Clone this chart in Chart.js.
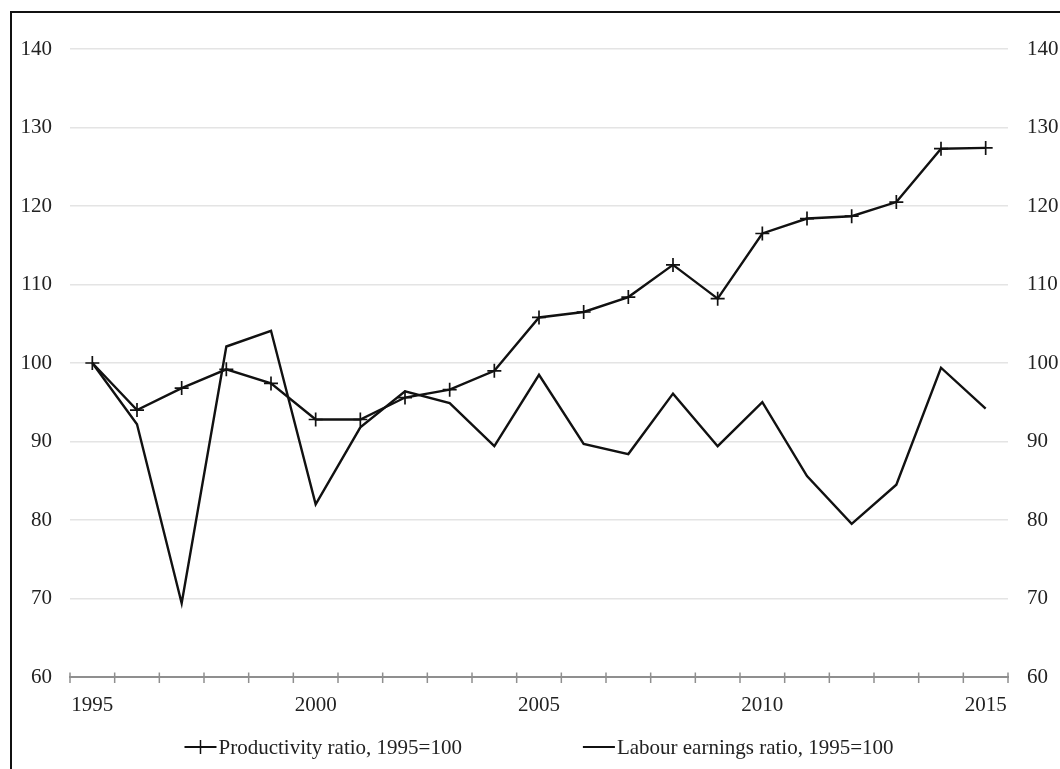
<!DOCTYPE html>
<html>
<head>
<meta charset="utf-8">
<script src="https://cdn.jsdelivr.net/npm/chart.js@4"></script>
<style>
  html, body { margin: 0; padding: 0; background: #fff; overflow: hidden; }
  #wrap { position: relative; width: 1060px; height: 769px; }
  #frame { position: absolute; left: 10px; top: 11px; width: 1100px; height: 800px; border: 2px solid #111; box-sizing: border-box; pointer-events: none; }
  canvas { position: absolute; left: 0; top: 0; }
</style>
</head>
<body>
<div id="wrap">
  <canvas id="c" width="1060" height="769"></canvas>
  <div id="frame"></div>
</div>
<script>
const years = ['1995','1996','1997','1998','1999','2000','2001','2002','2003','2004','2005','2006','2007','2008','2009','2010','2011','2012','2013','2014','2015'];
const productivity = [100, 94.0, 96.8, 99.2, 97.4, 92.8, 92.8, 95.6, 96.6, 99.0, 105.8, 106.5, 108.4, 112.5, 108.2, 116.5, 118.4, 118.7, 120.5, 127.3, 127.4];
const earnings = [100, 92.2, 69.4, 102.1, 104.1, 82.0, 91.8, 96.4, 94.9, 89.4, 98.5, 89.7, 88.4, 96.1, 89.4, 95.0, 85.6, 79.5, 84.5, 99.4, 94.2];
const yTicks = [60, 70, 80, 90, 100, 110, 120, 130, 140];
const seriesNames = ['Productivity ratio, 1995=100', 'Labour earnings ratio, 1995=100'];

const FONT = '"Liberation Serif", "Times New Roman", serif';
const TXT = '#222';
const AXIS_GRAY = '#8f8f8f';

const xTicksPlugin = {
  id: 'xTicks',
  afterDatasetsDraw(chart) {
    const x = chart.scales.x;
    const ctx = chart.ctx;
    const yAxis = x.top;
    const n = x.ticks.length;
    ctx.save();
    ctx.strokeStyle = AXIS_GRAY;
    ctx.lineWidth = 1.5;
    for (let i = 0; i <= n; i++) {
      const px = x.getPixelForValue(0) + (i - 0.5) * (x.getPixelForValue(1) - x.getPixelForValue(0));
      ctx.beginPath();
      ctx.moveTo(px, yAxis - 4.5);
      ctx.lineTo(px, yAxis + 6);
      ctx.stroke();
    }
    ctx.restore();
  }
};

const legendPlugin = {
  id: 'customLegend',
  afterDraw(chart) {
    const ctx = chart.ctx;
    const area = chart.chartArea;
    ctx.save();
    ctx.font = '21px ' + FONT;
    ctx.fillStyle = TXT;
    ctx.textBaseline = 'middle';
    const lineLen = 32, textGap = 2, itemGap = 121;
    const widths = chart.data.datasets.map(d => lineLen + textGap + ctx.measureText(d.label).width);
    const total = widths[0] + widths[1] + itemGap;
    let x = (area.left + area.right) / 2 - total / 2;
    const y = 747;
    chart.data.datasets.forEach((d, i) => {
      ctx.strokeStyle = '#111';
      ctx.lineWidth = 2;
      ctx.beginPath();
      ctx.moveTo(x, y);
      ctx.lineTo(x + lineLen, y);
      ctx.stroke();
      if (d.pointStyle === 'cross' && d.pointRadius > 0) {
        ctx.lineWidth = 1.5;
        ctx.beginPath();
        ctx.moveTo(x + lineLen / 2, y - 7);
        ctx.lineTo(x + lineLen / 2, y + 7);
        ctx.stroke();
      }
      ctx.fillText(d.label, x + lineLen + textGap, y + 1);
      x += widths[i] + itemGap;
    });
    ctx.restore();
  }
};

new Chart(document.getElementById('c'), {
  type: 'line',
  data: {
    labels: years,
    datasets: [
      {
        label: seriesNames[0],
        data: productivity,
        borderColor: '#111',
        backgroundColor: '#111',
        borderWidth: 2.4,
        pointStyle: 'cross',
        pointRadius: 7,
        pointBorderWidth: 1.7,
        pointBorderColor: '#111',
        tension: 0,
        yAxisID: 'y'
      },
      {
        label: seriesNames[1],
        data: earnings,
        borderColor: '#111',
        backgroundColor: '#111',
        borderWidth: 2.4,
        pointStyle: 'circle',
        pointRadius: 0,
        tension: 0,
        yAxisID: 'y'
      }
    ]
  },
  options: {
    responsive: false,
    animation: false,
    devicePixelRatio: 1,
    layout: { padding: { top: 49, left: 0, right: 0, bottom: 0 } },
    plugins: { legend: { display: false }, tooltip: { enabled: false } },
    scales: {
      x: {
        type: 'category',
        offset: true,
        grid: { display: false, offset: true },
        border: { display: true, color: AXIS_GRAY, width: 2 },
        ticks: {
          autoSkip: false,
          maxRotation: 0,
          padding: 8,
          color: TXT,
          font: { family: FONT, size: 21 },
          callback: function (v, i) { return i % 5 === 0 ? years[i] : ''; }
        },
        afterFit(s) { s.height = 92; }
      },
      y: {
        position: 'left',
        min: 60, max: 140,
        afterBuildTicks(s) { s.ticks = yTicks.map(v => ({ value: v })); },
        grid: { color: '#e4e4e4', lineWidth: 1.6, drawTicks: false },
        border: { display: false },
        ticks: { padding: 18, color: TXT, font: { family: FONT, size: 21 } },
        afterFit(s) { s.width = 70; }
      },
      y2: {
        position: 'right',
        min: 60, max: 140,
        afterBuildTicks(s) { s.ticks = yTicks.map(v => ({ value: v })); },
        grid: { display: false, drawTicks: false },
        border: { display: false },
        ticks: { padding: 19, color: TXT, font: { family: FONT, size: 21 } },
        afterFit(s) { s.width = 52; }
      }
    }
  },
  plugins: [xTicksPlugin, legendPlugin]
});
</script>
</body>
</html>
